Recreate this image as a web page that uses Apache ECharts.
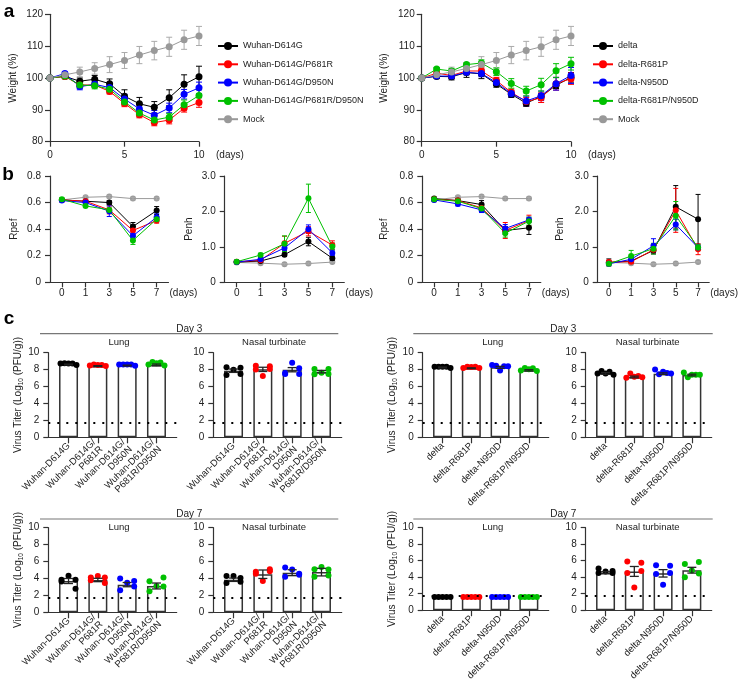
<!DOCTYPE html>
<html lang="en">
<head>
<meta charset="UTF-8">
<title>Weight, lung function and virus titer</title>
<script src="https://cdn.jsdelivr.net/npm/echarts@6/dist/echarts.min.js"></script>
<style>
  html, body { margin: 0; padding: 0; background: #fff; }
  #main { width: 739px; height: 683px; }
</style>
</head>
<body>
<div id="main"></div>
<script>
// ---------- data ----------
const days = [0, 1, 2, 3, 4, 5, 6, 7, 8, 9, 10];
const pfDays = ['0', '1', '3', '5', '7'];

const wuhanGroups = ['Wuhan-D614G', 'Wuhan-D614G/P681R', 'Wuhan-D614G/D950N', 'Wuhan-D614G/P681R/D950N', 'Mock'];
const deltaGroups = ['delta', 'delta-R681P', 'delta-N950D', 'delta-R681P/N950D', 'Mock'];

// a: body weight (%) mean and error per group
const weightWuhan = [
  [100, 100.5, 99.0, 99.6, 98.2, 94.3, 91.9, 90.8, 93.8, 98.0, 100.4],
  [100, 100.5, 97.8, 97.8, 95.8, 92.0, 88.5, 86.0, 86.8, 90.5, 92.3],
  [100, 101.4, 97.3, 98.0, 97.0, 93.4, 90.3, 88.3, 90.6, 94.9, 96.9],
  [100, 100.6, 97.8, 97.6, 96.5, 92.5, 89.0, 86.8, 87.7, 91.6, 94.5],
  [100, 101.0, 101.9, 103.0, 104.2, 105.5, 107.2, 108.6, 109.8, 112.0, 113.2]
];
const weightWuhanErr = [
  [0, 0.5, 1.0, 1.2, 1.5, 2.0, 2.0, 1.8, 2.5, 3.0, 3.3],
  [0, 0.5, 0.5, 0.5, 0.8, 1.0, 1.0, 1.0, 1.2, 1.2, 1.5],
  [0, 0.5, 1.0, 1.0, 1.2, 1.5, 1.5, 1.5, 1.5, 1.5, 1.8],
  [0, 0.5, 1.0, 1.0, 1.0, 1.0, 1.0, 1.0, 1.2, 1.5, 1.8],
  [0, 0.6, 1.5, 1.8, 2.5, 2.5, 2.7, 2.9, 3.0, 3.0, 3.0]
];
const weightDelta = [
  [100, 100.5, 100.4, 101.7, 101.3, 98.1, 94.9, 92.1, 94.2, 97.7, 100.2],
  [100, 101.5, 100.8, 102.2, 102.2, 99.2, 95.5, 92.6, 93.8, 98.2, 99.8],
  [100, 100.6, 100.6, 101.8, 101.4, 98.6, 95.1, 92.8, 94.4, 98.2, 100.8],
  [100, 102.8, 102.2, 104.2, 104.7, 102.0, 98.3, 95.9, 97.9, 102.3, 104.5],
  [100, 101.0, 101.9, 103.0, 104.2, 105.5, 107.2, 108.6, 109.8, 112.0, 113.2]
];
const weightDeltaErr = [
  [0, 0.6, 1.0, 1.5, 1.5, 1.0, 1.0, 1.0, 1.0, 1.0, 1.5],
  [0, 0.5, 0.8, 1.0, 1.0, 1.0, 1.0, 1.3, 1.5, 2.0, 1.8],
  [0, 0.5, 0.8, 0.8, 1.0, 1.0, 1.0, 1.5, 1.5, 2.0, 2.5],
  [0, 0.5, 0.8, 0.5, 1.0, 1.2, 1.5, 1.5, 2.0, 2.2, 2.0],
  [0, 0.6, 1.5, 1.8, 2.5, 2.5, 2.7, 2.9, 3.0, 3.0, 3.0]
];

// b: Rpef and Penh
const rpefWuhan = [
  [0.62, 0.61, 0.60, 0.42, 0.54],
  [0.62, 0.61, 0.545, 0.39, 0.465],
  [0.615, 0.60, 0.535, 0.35, 0.49],
  [0.625, 0.575, 0.545, 0.315, 0.475],
  [0.62, 0.64, 0.645, 0.63, 0.63]
];
const rpefWuhanErr = [
  [0.01, 0.01, 0.015, 0.03, 0.03],
  [0.01, 0.01, 0.03, 0.03, 0.02],
  [0.01, 0.015, 0.04, 0.02, 0.03],
  [0.01, 0.01, 0.015, 0.03, 0.02],
  [0.01, 0.01, 0.01, 0.01, 0.01]
];
const penhWuhan = [
  [0.57, 0.60, 0.78, 1.15, 0.68],
  [0.58, 0.62, 1.10, 1.44, 1.05],
  [0.57, 0.65, 0.97, 1.50, 0.83],
  [0.58, 0.77, 1.09, 2.37, 1.01],
  [0.56, 0.54, 0.51, 0.53, 0.57]
];
const penhWuhanErr = [
  [0.03, 0.03, 0.05, 0.12, 0.06],
  [0.03, 0.05, 0.2, 0.13, 0.12],
  [0.03, 0.04, 0.08, 0.12, 0.08],
  [0.03, 0.05, 0.22, 0.4, 0.1],
  [0.02, 0.02, 0.02, 0.02, 0.02]
];
const rpefDelta = [
  [0.63, 0.615, 0.585, 0.39, 0.41],
  [0.625, 0.615, 0.56, 0.39, 0.465],
  [0.62, 0.59, 0.545, 0.405, 0.47],
  [0.625, 0.61, 0.555, 0.37, 0.46],
  [0.62, 0.64, 0.645, 0.63, 0.63]
];
const rpefDeltaErr = [
  [0.01, 0.01, 0.03, 0.03, 0.05],
  [0.01, 0.01, 0.02, 0.06, 0.04],
  [0.01, 0.015, 0.02, 0.03, 0.02],
  [0.01, 0.01, 0.02, 0.03, 0.03],
  [0.01, 0.01, 0.01, 0.01, 0.01]
];
const penhDelta = [
  [0.56, 0.60, 0.90, 2.13, 1.78],
  [0.57, 0.58, 0.92, 2.03, 0.93],
  [0.52, 0.65, 1.03, 1.63, 0.98],
  [0.52, 0.74, 0.95, 1.88, 0.98],
  [0.56, 0.54, 0.51, 0.53, 0.57]
];
const penhDeltaErr = [
  [0.1, 0.05, 0.1, 0.6, 0.7],
  [0.05, 0.05, 0.1, 0.62, 0.15],
  [0.03, 0.08, 0.2, 0.15, 0.05],
  [0.03, 0.16, 0.15, 0.4, 0.08],
  [0.02, 0.02, 0.02, 0.02, 0.02]
];

// c: virus titers, log10 PFU/g
const wuhanLabels = ['Wuhan-D614G', 'Wuhan-D614G/\nP681R', 'Wuhan-D614G/\nD950N', 'Wuhan-D614G/\nP681R/D950N'];
const deltaLabels = ['delta', 'delta-R681P', 'delta-N950D', 'delta-R681P/N950D'];
const detectLimit = 1.7;

const wuhanD3LungBar = [8.6, 8.42, 8.48, 8.56];
const wuhanD3LungErr = [0.05, 0.05, 0.05, 0.1];
const wuhanD3LungDots = [[8.72, 8.75, 8.72, 8.72, 8.55], [8.5, 8.6, 8.55, 8.55, 8.42], [8.6, 8.6, 8.6, 8.6, 8.45], [8.6, 8.9, 8.75, 8.85, 8.5]];
const wuhanD3NasalBar = [7.87, 8.03, 7.99, 7.76];
const wuhanD3NasalErr = [0.2, 0.25, 0.25, 0.15];
const wuhanD3NasalDots = [[8.27, 7.36, 7.99, 8.23, 7.48], [8.46, 8.0, 7.24, 8.07, 8.39], [7.48, 7.6, 8.82, 8.15, 7.48], [8.07, 7.44, 7.64, 8.07, 7.48]];
const deltaD3LungBar = [8.25, 8.17, 8.27, 7.92];
const deltaD3LungErr = [0.05, 0.04, 0.12, 0.08];
const deltaD3LungDots = [[8.35, 8.35, 8.35, 8.35, 8.2], [8.2, 8.35, 8.3, 8.35, 8.2], [8.55, 8.45, 7.9, 8.4, 8.4], [7.9, 8.2, 8.05, 8.15, 7.85]];
const deltaD3NasalBar = [7.56, 7.13, 7.52, 7.36];
const deltaD3NasalErr = [0.1, 0.1, 0.1, 0.1];
const deltaD3NasalDots = [[7.55, 7.85, 7.55, 7.75, 7.4], [7.05, 7.55, 7.15, 7.25, 7.1], [8.0, 7.45, 7.75, 7.6, 7.55], [7.65, 7.1, 7.4, 7.4, 7.4]];

const wuhanD7LungBar = [3.7, 3.82, 3.27, 3.11];
const wuhanD7LungErr = [0.3, 0.2, 0.25, 0.35];
const wuhanD7LungDots = [[3.85, 3.65, 4.33, 3.85, 2.78], [4.1, 3.8, 4.3, 4.1, 3.45], [4.0, 2.6, 3.5, 3.7, 3.05], [3.66, 2.5, 3.1, 4.1, 3.05]];
const wuhanD7NasalBar = [3.85, 4.5, 4.68, 4.75];
const wuhanD7NasalErr = [0.2, 0.5, 0.35, 0.45];
const wuhanD7NasalDots = [[4.3, 3.45, 4.3, 4.05, 3.6], [4.8, 4.55, 3.7, 4.85, 5.1], [5.3, 4.2, 5.05, 4.55, 4.45], [5.1, 4.2, 5.35, 5.05, 4.35]];
const deltaD7LungBar = [1.55, 1.55, 1.55, 1.55];
const deltaD7LungErr = [0, 0, 0, 0];
const deltaD7LungDots = [[1.6, 1.6, 1.6, 1.6, 1.6], [1.6, 1.6, 1.6, 1.6, 1.6], [1.6, 1.6, 1.6, 1.6, 1.6], [1.6, 1.6, 1.6, 1.6, 1.6]];
const deltaD7NasalBar = [4.55, 4.7, 4.47, 4.85];
const deltaD7NasalErr = [0.12, 0.6, 0.45, 0.35];
const deltaD7NasalDots = [[5.05, 4.5, 4.7, 4.75, 4.5], [5.9, 4.5, 2.75, 5.75, 4.75], [5.45, 4.4, 3.1, 5.4, 4.5], [5.6, 4.0, 4.8, 5.85, 4.45]];

// ---------- styling ----------
const FONT = "'Liberation Sans', Arial, Helvetica, sans-serif";
const INK = '#222';
const AXIS = '#333';
const colors = ['#000000', '#ff0000', '#0000ff', '#00c000', '#999999'];
const JIT_ROW = [-8, -4, 0, 4, 8];
const JIT_COL = [-7, -7, 0, 7, 7];

const grids = [], xAxes = [], yAxes = [], series = [], legends = [], graphics = [];

function merge(a, b) {
  const out = Object.assign({}, a);
  for (const k in b) {
    if (b[k] && typeof b[k] === 'object' && !Array.isArray(b[k]) && a[k] && typeof a[k] === 'object') out[k] = merge(a[k], b[k]);
    else out[k] = b[k];
  }
  return out;
}

function axis(extra) {
  return merge({
    axisLine: { show: true, onZero: false, lineStyle: { color: AXIS, width: 1.2 } },
    axisTick: { show: true, length: 5, lineStyle: { color: AXIS, width: 1.2 } },
    axisLabel: { color: INK, fontSize: 10, fontFamily: FONT },
    splitLine: { show: false },
    nameTextStyle: { color: INK, fontSize: 10, fontFamily: FONT }
  }, extra);
}

function addGrid(r) {
  grids.push({ left: r[0], top: r[1], width: r[2], height: r[3] });
  return grids.length - 1;
}

// error bars (vertical whisker with caps)
function errBars(g, xs, means, errs, color, cap, width) {
  return {
    type: 'custom', name: '', xAxisIndex: g, yAxisIndex: g, z: 2,
    data: xs.map((x, i) => [x, means[i], errs[i]]),
    encode: { x: 0, y: 1 },
    renderItem: (params, api) => {
      const x = api.value(0), m = api.value(1), e = api.value(2);
      if (!e) return null;
      const t = api.coord([x, m + e]), b = api.coord([x, m - e]);
      const st = { stroke: color, lineWidth: width };
      return { type: 'group', children: [
        { type: 'line', shape: { x1: t[0], y1: t[1], x2: b[0], y2: b[1] }, style: st },
        { type: 'line', shape: { x1: t[0] - cap, y1: t[1], x2: t[0] + cap, y2: t[1] }, style: st },
        { type: 'line', shape: { x1: b[0] - cap, y1: b[1], x2: b[0] + cap, y2: b[1] }, style: st }
      ] };
    }
  };
}

function text(x, y, str, size, extra) {
  graphics.push(merge({ type: 'text', x: x, y: y, silent: true,
    style: { text: str, fill: INK, fontSize: size, fontFamily: FONT, align: 'center', verticalAlign: 'middle' } }, extra || {}));
}

// ---------- a: weight ----------
function weightPanel(r, groups, means, errs, legendLeft, nameGap) {
  const g = addGrid(r);
  xAxes.push(axis({ gridIndex: g, type: 'value', min: 0, max: 10, interval: 5,
    name: '(days)', nameLocation: 'end', nameGap: 17,
    nameTextStyle: { verticalAlign: 'top', padding: [9, 0, 0, 0] }, axisLabel: { margin: 9 } }));
  yAxes.push(axis({ gridIndex: g, type: 'value', min: 80, max: 120, interval: 10,
    name: 'Weight (%)', nameLocation: 'middle', nameGap: nameGap, axisLabel: { margin: 7 } }));
  groups.forEach((name, k) => {
    const c = colors[k];
    series.push({ type: 'line', name: name, xAxisIndex: g, yAxisIndex: g, z: 3,
      data: days.map((d, i) => [d, means[k][i]]),
      symbol: 'circle', symbolSize: 7, itemStyle: { color: c }, lineStyle: { color: c, width: 1 } });
    series.push(errBars(g, days, means[k], errs[k], k === 4 ? '#aaaaaa' : c, 3, 1));
  });
  legends.push({ orient: 'vertical', left: legendLeft, top: 41.5, padding: 0, itemWidth: 20, itemHeight: 10, itemGap: 9.3,
    selectedMode: false, data: groups, textStyle: { fontSize: 9, color: INK, fontFamily: FONT } });
}

// ---------- b: Rpef / Penh ----------
function pfPanel(r, yName, yMax, yInterval, means, errs, nameGap) {
  const g = addGrid(r);
  xAxes.push(axis({ gridIndex: g, type: 'category', data: pfDays, boundaryGap: true,
    axisTick: { alignWithLabel: true }, axisLabel: { margin: 6 },
    name: '(days)', nameLocation: 'end', nameGap: 1,
    nameTextStyle: { verticalAlign: 'top', padding: [6, 0, 0, 0] } }));
  yAxes.push(axis({ gridIndex: g, type: 'value', min: 0, max: yMax, interval: yInterval,
    name: yName, nameLocation: 'middle', nameGap: nameGap,
    axisLabel: { margin: 9, formatter: v => (v === 0 ? '0' : v.toFixed(1)) } }));
  means.forEach((m, k) => {
    const c = colors[k];
    const idx = pfDays.map((d, i) => i);
    series.push({ type: 'line', name: k === 4 ? 'Mock' : '', xAxisIndex: g, yAxisIndex: g, z: k === 4 ? 1 : 3,
      data: m, symbol: 'circle', symbolSize: 6, itemStyle: { color: c }, lineStyle: { color: c, width: 1 } });
    series.push(errBars(g, idx, m, errs[k], k === 4 ? '#aaaaaa' : c, 2.5, 1));
  });
}

// ---------- c: titers ----------
function titerPanel(r, labels, bars, errs, dots, jit, yGap) {
  const g = addGrid(r);
  const pos = labels.map((l, i) => i);
  xAxes.push(axis({ gridIndex: g, type: 'value', min: -0.69, max: 3.69,
    axisTick: { length: 6, customValues: pos },
    axisLabel: { customValues: pos, rotate: 45, margin: 7, fontSize: 9.5, lineHeight: 9.8,
      showMinLabel: true, showMaxLabel: true, hideOverlap: false,
      formatter: v => labels[Math.round(v)] } }));
  const y = { gridIndex: g, type: 'value', min: 0, max: 10, interval: 2, axisLabel: { margin: 9 } };
  if (yGap) {
    y.name = '{t|Virus Titer (Log}{s|10}{t| (PFU/g))}';
    y.nameLocation = 'middle';
    y.nameGap = yGap;
    y.nameTextStyle = { rich: {
      t: { fontSize: 10, color: INK, fontFamily: FONT },
      s: { fontSize: 6.5, color: INK, fontFamily: FONT, padding: [5, 0, 0, 0] } } };
  }
  yAxes.push(axis(y));
  series.push({ type: 'bar', xAxisIndex: g, yAxisIndex: g, barWidth: 19, z: 1,
    data: bars.map((v, i) => [i, v]),
    itemStyle: { color: '#ffffff', borderColor: AXIS, borderWidth: 1.5 } });
  // detection limit drawn above the bars
  series.push({ type: 'line', xAxisIndex: g, yAxisIndex: g, data: [], z: 2,
    markLine: { silent: true, symbol: 'none', label: { show: false },
      lineStyle: { color: '#000', width: 2, type: [2, 7] }, data: [{ yAxis: detectLimit }] } });
  dots.forEach((d, k) => {
    series.push({ type: 'scatter', xAxisIndex: g, yAxisIndex: g, z: 3, symbolSize: 6,
      itemStyle: { color: colors[k], opacity: 1 },
      data: d.map((v, j) => ({ value: [k, v], symbolOffset: [jit[j], 0] })) });
  });
  series.push(errBars(g, pos, bars, errs, '#222', 4.5, 1.3));
  series[series.length - 1].z = 4;
}

weightPanel([50, 14.3, 149, 127.4], wuhanGroups, weightWuhan, weightWuhanErr, 217, 32);
weightPanel([421.7, 14.3, 149.3, 127.4], deltaGroups, weightDelta, weightDeltaErr, 592, 32);

pfPanel([50, 176, 118.5, 106.3], 'Rpef', 0.8, 0.2, rpefWuhan, rpefWuhanErr, 31);
pfPanel([224.7, 176, 119.6, 106.3], 'Penh', 3, 1, penhWuhan, penhWuhanErr, 30);
pfPanel([422.3, 176, 118.5, 106.3], 'Rpef', 0.8, 0.2, rpefDelta, rpefDeltaErr, 33);
pfPanel([597.7, 176, 119.6, 106.3], 'Penh', 3, 1, penhDelta, penhDeltaErr, 32);

titerPanel([48.3, 352.7, 128.4, 84.6], wuhanLabels, wuhanD3LungBar, wuhanD3LungErr, wuhanD3LungDots, JIT_ROW, 22);
titerPanel([213.3, 352.7, 128.4, 84.6], wuhanLabels, wuhanD3NasalBar, wuhanD3NasalErr, wuhanD3NasalDots, JIT_COL, 0);
titerPanel([422.7, 352.7, 126, 84.6], deltaLabels, deltaD3LungBar, deltaD3LungErr, deltaD3LungDots, JIT_ROW, 24);
titerPanel([585.7, 352.7, 126, 84.6], deltaLabels, deltaD3NasalBar, deltaD3NasalErr, deltaD3NasalDots, JIT_ROW, 0);
titerPanel([48.3, 527.7, 128.4, 84.6], wuhanLabels, wuhanD7LungBar, wuhanD7LungErr, wuhanD7LungDots, JIT_COL, 22);
titerPanel([213.3, 527.7, 128.4, 84.6], wuhanLabels, wuhanD7NasalBar, wuhanD7NasalErr, wuhanD7NasalDots, JIT_COL, 0);
titerPanel([422.7, 527.7, 126, 84.6], deltaLabels, deltaD7LungBar, deltaD7LungErr, deltaD7LungDots, JIT_ROW, 24);
titerPanel([585.7, 527.7, 126, 84.6], deltaLabels, deltaD7NasalBar, deltaD7NasalErr, deltaD7NasalDots, JIT_COL, 0);

// panel letters
text(9, 11.7, 'a', 19, { style: { fontWeight: 'bold', fill: '#000' } });
text(8, 175, 'b', 19, { style: { fontWeight: 'bold', fill: '#000' } });
text(9, 318.5, 'c', 19, { style: { fontWeight: 'bold', fill: '#000' } });

// day headers with rule, and tissue titles
[[329, 333.7, 'Day 3', 342], [514, 519, 'Day 7', 527]].forEach(([ty, ly, label, sy]) => {
  graphics.push({ type: 'line', silent: true, shape: { x1: 40, y1: ly, x2: 338.3, y2: ly }, style: { stroke: '#777', lineWidth: 1.2 } });
  graphics.push({ type: 'line', silent: true, shape: { x1: 413.3, y1: ly, x2: 712.7, y2: ly }, style: { stroke: '#777', lineWidth: 1.2 } });
  text(189.3, ty, label, 10);
  text(563.3, ty, label, 10);
  text(119, sy, 'Lung', 9.5);
  text(274, sy, 'Nasal turbinate', 9.5);
  text(492.7, sy, 'Lung', 9.5);
  text(647.7, sy, 'Nasal turbinate', 9.5);
});

const chart = echarts.init(document.getElementById('main'), null, { renderer: 'canvas' });
chart.setOption({
  animation: false,
  backgroundColor: '#ffffff',
  textStyle: { fontFamily: FONT },
  grid: grids,
  xAxis: xAxes,
  yAxis: yAxes,
  legend: legends,
  series: series,
  graphic: graphics
});
</script>
</body>
</html>
